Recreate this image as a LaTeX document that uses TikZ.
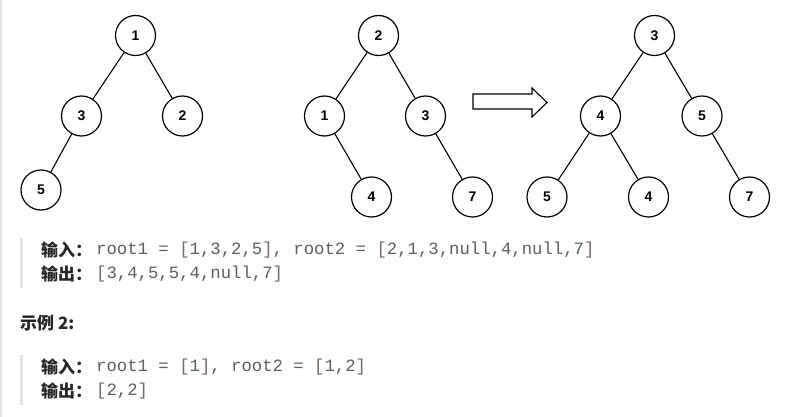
\documentclass[tikz,border=0pt]{standalone}
\usepackage{fontspec}
\setmainfont{Liberation Sans}
\newfontfamily\cjk{Noto Sans CJK SC}
\newfontfamily\codefont{Liberation Mono}
\definecolor{codegray}{HTML}{5E5E5E}
\definecolor{brk}{HTML}{7A6A60}
\definecolor{bargray}{HTML}{E3E3E3}
\definecolor{labelblack}{HTML}{262626}
\tikzset{
  tn/.style={circle, draw=black, line width=1.2pt, minimum size=40pt, inner sep=0pt,
    font=\fontsize{14pt}{16pt}\selectfont\bfseries},
  edge/.style={draw=black, line width=1.1pt},
  lbl/.style={anchor=west, inner sep=0pt, text=labelblack, font=\cjk\fontsize{17pt}{19pt}\selectfont\bfseries},
  code/.style={anchor=west, inner sep=0pt, text=codegray, font=\codefont\fontsize{17.3pt}{19pt}\selectfont},
}
\newcommand{\lb}{\textcolor{brk}{[}}
\newcommand{\rb}{\textcolor{brk}{]}}
\begin{document}
\begin{tikzpicture}[x=1pt,y=-1pt]
\useasboundingbox (0,0) rectangle (788,417);
\fill[white] (0,0) rectangle (788,417);
\fill[bargray] (0,0) rectangle (1.5,417);
% tree 1
\node[tn] (a1) at (135.5,35.5) {1};
\node[tn] (a3) at (81.5,116) {3};
\node[tn] (a2) at (182.5,116) {2};
\node[tn] (a5) at (41,190) {5};
\draw[edge] (a1) -- (a3);
\draw[edge] (a1) -- (a2);
\draw[edge] (a3) -- (a5);
% tree 2
\node[tn] (b2) at (378.5,35.5) {2};
\node[tn] (b1) at (324.5,116) {1};
\node[tn] (b3) at (425.5,116) {3};
\node[tn] (b4) at (371.5,197) {4};
\node[tn] (b7) at (472.5,197) {7};
\draw[edge] (b2) -- (b1);
\draw[edge] (b2) -- (b3);
\draw[edge] (b1) -- (b4);
\draw[edge] (b3) -- (b7);
% arrow
\draw[line width=1.1pt, fill=white, line join=miter]
  (473,94) -- (532,94) -- (532,88) -- (547,102.5) -- (532,117) -- (532,109) -- (473,109) -- cycle;
% tree 3
\node[tn] (c3) at (654.5,35.5) {3};
\node[tn] (c4) at (600.5,116) {4};
\node[tn] (c5) at (702,116) {5};
\node[tn] (c5b) at (547,197) {5};
\node[tn] (c4b) at (648.5,197) {4};
\node[tn] (c7) at (749.5,197) {7};
\draw[edge] (c3) -- (c4);
\draw[edge] (c3) -- (c5);
\draw[edge] (c4) -- (c5b);
\draw[edge] (c4) -- (c4b);
\draw[edge] (c5) -- (c7);
% quote bars
\fill[bargray] (20,238) rectangle (22.5,288);
\fill[bargray] (20,355) rectangle (22.5,405);
% texts
\node[lbl] (in1) at (41,250) {输入：};
\node[code] (in1c) at (96,250) {root1 = \lb1,3,2,5\rb, root2 = \lb2,1,3,null,4,null,7\rb};
\node[lbl] (out1) at (41,274) {输出：};
\node[code] (out1c) at (96,274) {\lb3,4,5,5,4,null,7\rb};
\node[lbl] (ex2) at (20,323) {示例 2:};
\node[lbl] (in2) at (41,367) {输入：};
\node[code] (in2c) at (96,367) {root1 = \lb1\rb, root2 = \lb1,2\rb};
\node[lbl] (out2) at (41,391) {输出：};
\node[code] (out2c) at (96,391) {\lb2,2\rb};
\end{tikzpicture}
\end{document}
